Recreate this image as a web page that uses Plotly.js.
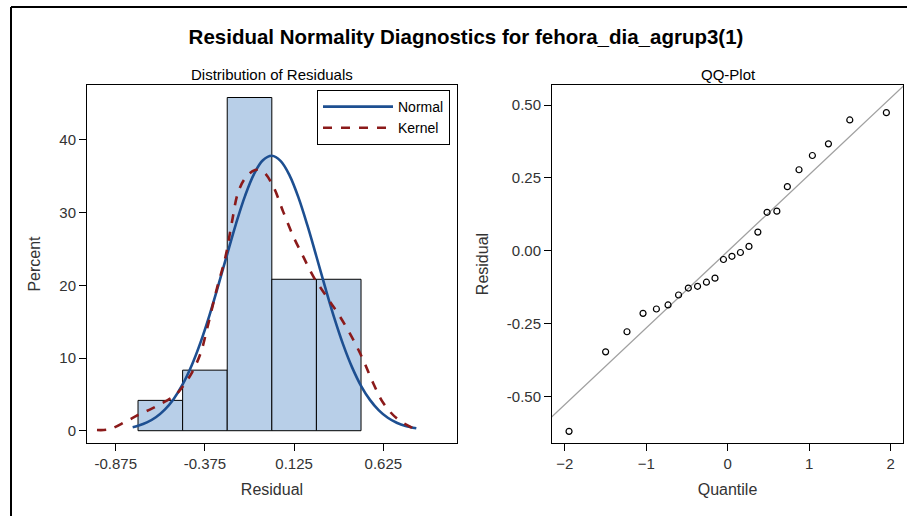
<!DOCTYPE html>
<html>
<head>
<meta charset="utf-8">
<script src="https://cdn.plot.ly/plotly-3.0.1.min.js"></script>
<style>
  html, body { margin: 0; padding: 0; background: #fff; }
  #chart { width: 907px; height: 516px; }
</style>
</head>
<body>
<div id="chart"></div>
<script>
// ---- Data ----
// Histogram (percent of residuals per bin, bin width 0.25)
const binCenters = [-0.625, -0.375, -0.125, 0.125, 0.375];
const binPercent = [4.17, 8.33, 45.83, 20.83, 20.83];
const binWidth = 0.25;

// Fitted normal density curve (percent scale)
const normalX = [-0.78, -0.75, -0.70, -0.65, -0.60, -0.55, -0.50, -0.45, -0.40, -0.35, -0.30, -0.25, -0.20, -0.15, -0.10, -0.05, 0.00, 0.05, 0.10, 0.15, 0.20, 0.25, 0.30, 0.35, 0.40, 0.45, 0.50, 0.55, 0.60, 0.65, 0.70, 0.75, 0.81];
const normalY = [0.49, 0.68, 1.14, 1.85, 2.90, 4.37, 6.36, 8.94, 12.12, 15.84, 19.98, 24.30, 28.53, 32.30, 35.29, 37.19, 37.81, 37.08, 35.09, 32.03, 28.20, 23.96, 19.64, 15.52, 11.84, 8.71, 6.18, 4.24, 2.80, 1.78, 1.10, 0.65, 0.33];

// Kernel density curve (percent scale)
const kernelX = [-0.98, -0.91, -0.82, -0.75, -0.67, -0.60, -0.54, -0.50, -0.45, -0.40, -0.36, -0.31, -0.26, -0.225, -0.19, -0.15, -0.094, -0.047, 0.008, 0.064, 0.121, 0.177, 0.233, 0.308, 0.382, 0.457, 0.513, 0.569, 0.625, 0.70, 0.775, 0.83];
const kernelY = [0.1, 0.2, 1.24, 2.16, 3.08, 3.99, 4.91, 6.05, 7.9, 10.6, 14.3, 19.35, 23.9, 28.5, 32.7, 34.7, 35.86, 35.6, 33.6, 30.1, 26.7, 23.9, 21.2, 18.4, 15.7, 12.5, 9.7, 6.5, 3.8, 1.7, 0.55, 0.1];

// QQ plot: normal quantiles and sorted residuals
const qqQuantile = [-1.947, -1.498, -1.236, -1.039, -0.875, -0.732, -0.603, -0.483, -0.370, -0.261, -0.156, -0.052, 0.052, 0.156, 0.261, 0.370, 0.483, 0.603, 0.732, 0.875, 1.039, 1.236, 1.498, 1.947];
const qqResidual = [-0.620, -0.347, -0.278, -0.215, -0.200, -0.186, -0.152, -0.128, -0.122, -0.108, -0.094, -0.030, -0.019, -0.006, 0.015, 0.064, 0.132, 0.136, 0.220, 0.278, 0.327, 0.367, 0.449, 0.474];

// Reference line endpoints
const refLineX = [-2.2, 2.2];
const refLineY = [-0.581, 0.577];

// Tick labels
const histTickVals = [-0.875, -0.375, 0.125, 0.625];
const histTickText = ["-0.875", "-0.375", "0.125", "0.625"];
const pctTickVals = [0, 10, 20, 30, 40];
const qqXTickVals = [-2, -1, 0, 1, 2];
const qqYTickVals = [-0.5, -0.25, 0, 0.25, 0.5];
const qqYTickText = ["-0.50", "-0.25", "0.00", "0.25", "0.50"];

// ---- Styling ----
const FONT = "Liberation Sans, Arial, sans-serif";
const W = 907, H = 516;
const px = v => v / W;
const py = v => 1 - v / H;

const traces = [
  {
    type: "bar", x: binCenters, y: binPercent, width: binWidth,
    marker: { color: "#b8cfe8", line: { color: "#000", width: 1 } },
    xaxis: "x", yaxis: "y", showlegend: false, hoverinfo: "x+y"
  },
  {
    type: "scatter", mode: "lines", x: normalX, y: normalY, name: "Normal",
    line: { color: "#1d4f91", width: 2.6, shape: "spline" },
    xaxis: "x", yaxis: "y"
  },
  {
    type: "scatter", mode: "lines", x: kernelX, y: kernelY, name: "Kernel",
    line: { color: "#8b1a1a", width: 2.6, dash: "dash", shape: "spline" },
    xaxis: "x", yaxis: "y"
  },
  {
    type: "scatter", mode: "lines", x: refLineX, y: refLineY,
    line: { color: "#a0a0a0", width: 1.3 }, showlegend: false,
    xaxis: "x2", yaxis: "y2", hoverinfo: "skip"
  },
  {
    type: "scatter", mode: "markers", x: qqQuantile, y: qqResidual,
    marker: { symbol: "circle-open", size: 6, color: "#000", line: { width: 1.2, color: "#000" } },
    showlegend: false, xaxis: "x2", yaxis: "y2"
  }
];

const axisCommon = {
  showgrid: false, zeroline: false, showline: true, mirror: true,
  linecolor: "#000", linewidth: 1, ticks: "outside", ticklen: 7,
  tickcolor: "#000", tickwidth: 1,
  tickfont: { family: FONT, size: 15, color: "#333" },
  fixedrange: true
};
const axTitleFont = { family: FONT, size: 16, color: "#333" };

const layout = {
  width: W, height: H,
  margin: { l: 0, r: 0, t: 0, b: 0 },
  paper_bgcolor: "#fff", plot_bgcolor: "#fff",
  font: { family: FONT, color: "#000" },
  title: {
    text: "<b>Residual Normality Diagnostics for fehora_dia_agrup3(1)</b>",
    x: px(466), xanchor: "center", y: py(37), yanchor: "middle",
    font: { family: FONT, size: 20.5, color: "#000" }
  },
  xaxis: Object.assign({}, axisCommon, {
    domain: [px(87), px(457)], range: [-1.036, 1.038],
    tickvals: histTickVals, ticktext: histTickText, anchor: "y",
    title: { text: "Residual", font: axTitleFont, standoff: 12 }
  }),
  yaxis: Object.assign({}, axisCommon, {
    domain: [1 - 443 / H, 1 - 85 / H], range: [-1.69, 47.55],
    tickvals: pctTickVals, anchor: "x",
    title: { text: "Percent", font: axTitleFont, standoff: 14 }
  }),
  xaxis2: Object.assign({}, axisCommon, {
    domain: [px(552), px(903)], range: [-2.156, 2.151],
    tickvals: qqXTickVals, anchor: "y2",
    title: { text: "Quantile", font: axTitleFont, standoff: 12 }
  }),
  yaxis2: Object.assign({}, axisCommon, {
    domain: [1 - 443 / H, 1 - 85 / H], range: [-0.66, 0.569],
    tickvals: qqYTickVals, ticktext: qqYTickText, anchor: "x2",
    title: { text: "Residual", font: axTitleFont, standoff: 14 }
  }),
  legend: {
    x: px(450), xanchor: "right", y: py(90), yanchor: "top",
    bgcolor: "#fff", bordercolor: "#000", borderwidth: 1,
    font: { family: FONT, size: 14, color: "#000" },
    itemwidth: 70, tracegroupgap: 0
  },
  annotations: [
    { text: "Distribution of Residuals", xref: "paper", yref: "paper",
      x: px(272), y: py(74), xanchor: "center", yanchor: "middle", showarrow: false,
      font: { family: FONT, size: 15, color: "#000" } },
    { text: "QQ-Plot", xref: "paper", yref: "paper",
      x: px(728), y: py(74), xanchor: "center", yanchor: "middle", showarrow: false,
      font: { family: FONT, size: 15, color: "#000" } }
  ],
  shapes: [
    { type: "line", xref: "paper", yref: "paper", x0: px(11), x1: 1.01, y0: py(7), y1: py(7),
      line: { color: "#000", width: 2 } },
    { type: "line", xref: "paper", yref: "paper", x0: px(11), x1: px(11), y0: py(7), y1: -0.01,
      line: { color: "#000", width: 2 } }
  ],
  showlegend: true
};

Plotly.newPlot("chart", traces, layout, { displayModeBar: false, staticPlot: false });
</script>
</body>
</html>
